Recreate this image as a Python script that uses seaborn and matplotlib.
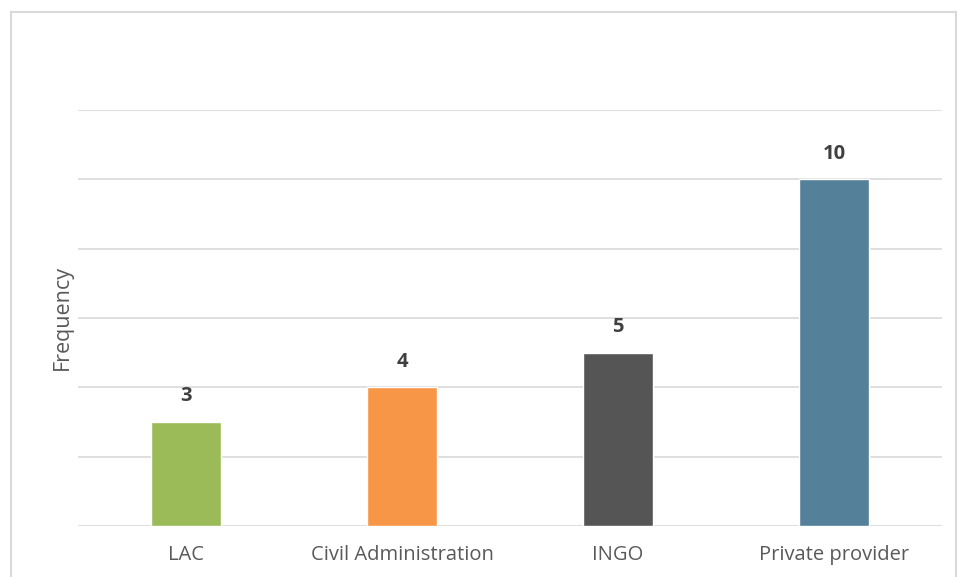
import matplotlib
matplotlib.use("Agg")
import matplotlib.pyplot as plt
import seaborn as sns
import pandas as pd
from matplotlib.patches import Rectangle

categories = ["LAC", "Civil Administration", "INGO", "Private provider"]
values = [3, 4, 5, 10]
colors = ["#9BBB59", "#F79646", "#555555", "#558099"]

sns.set_theme(style="white")
plt.rcParams['font.family'] = ['Open Sans', 'DejaVu Sans']

df = pd.DataFrame({"cat": categories, "val": values})

fig = plt.figure(figsize=(9.58, 5.77), dpi=100)
ax = fig.add_axes([78/958, 1-526/577, (942-78)/958, (526-110)/577])

sns.barplot(data=df, x="cat", y="val", hue="cat", palette=colors, width=0.32,
            legend=False, ax=ax, saturation=1)

ax.set_ylim(0, 12)
ax.set_yticks(range(0, 13, 2))
ax.yaxis.grid(True, color="#D9D9D9", linewidth=1.2)
ax.set_axisbelow(True)
ax.tick_params(axis='y', left=False, labelleft=False)
ax.tick_params(axis='x', bottom=False, labelsize=14.5, labelcolor="#595959", pad=8)
for s in ax.spines.values():
    s.set_visible(False)
ax.set_xlabel("")
ax.set_ylabel("Frequency", fontsize=15.5, color="#595959", labelpad=4)

for p, v in zip(ax.patches, values):
    ax.text(p.get_x() + p.get_width()/2, v + 0.45, str(v), ha="center", va="bottom",
            fontsize=14.5, fontweight="bold", color="#404040")

fig.patches.append(Rectangle((11/958, -0.01), (956-11)/958, 1-12/577 + 0.01,
                             transform=fig.transFigure, fill=False,
                             edgecolor="#D9D9D9", linewidth=1.5))

fig.savefig("out.png", dpi=100)
